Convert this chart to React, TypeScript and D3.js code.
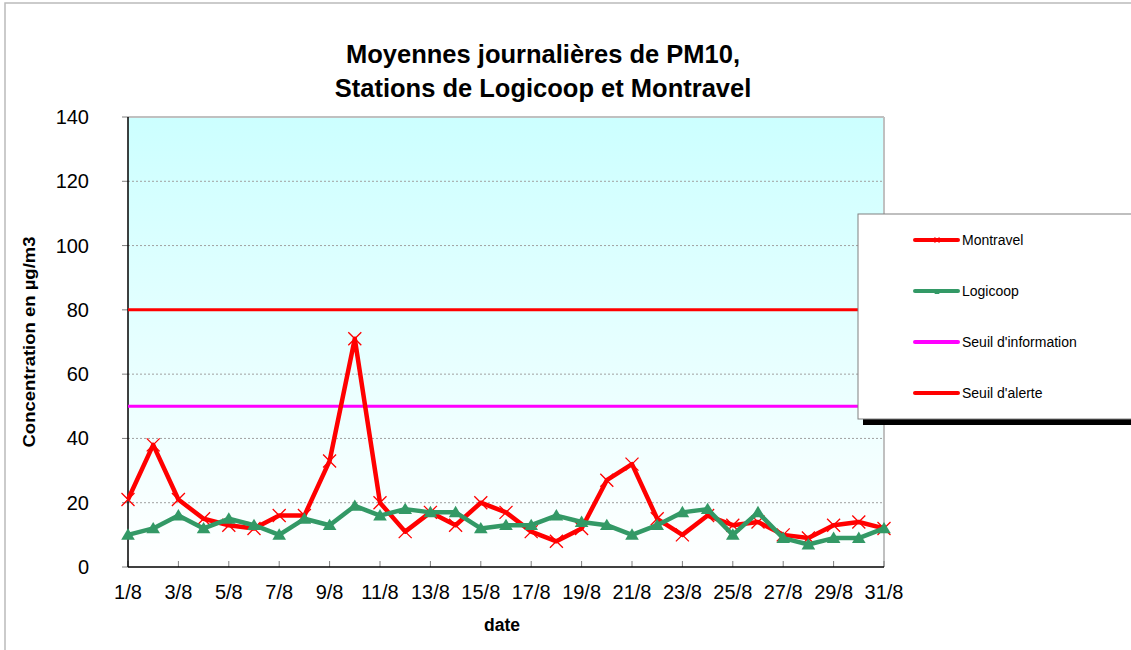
import React from "react";
import * as d3 from "d3";

const days = ["1/8","2/8","3/8","4/8","5/8","6/8","7/8","8/8","9/8","10/8","11/8","12/8","13/8","14/8","15/8","16/8","17/8","18/8","19/8","20/8","21/8","22/8","23/8","24/8","25/8","26/8","27/8","28/8","29/8","30/8","31/8"];
const tickLabels = ["1/8","3/8","5/8","7/8","9/8","11/8","13/8","15/8","17/8","19/8","21/8","23/8","25/8","27/8","29/8","31/8"];
const montravel = [21,38,21,15,13,12,16,16,33,71,20,11,17,13,20,17,11,8,12,27,32,15,10,16,13,14,10,9,13,14,12];
const logicoop = [10,12,16,12,15,13,10,15,13,19,16,18,17,17,12,13,13,16,14,13,10,13,17,18,10,17,9,7,9,9,12];
const seuilInformation = 50;
const seuilAlerte = 80;
const yTicks = [0,20,40,60,80,100,120,140];
const legendItems = ["Montravel","Logicoop","Seuil d'information","Seuil d'alerte"];

const W = 1131, H = 650;
const L = 128, R = 884, T = 117, B = 567;
const FONT = "Liberation Sans, Arial, sans-serif";

export default function App() {
  const x = d3.scalePoint<string>().domain(days).range([L, R]).padding(0);
  const y = d3.scaleLinear().domain([0, 140]).range([B, T]);
  const line = d3.line<number>().x((_, i) => x(days[i])!).y((v) => y(v));

  const tri = (cx: number, cy: number, s: number) =>
    `M${cx},${cy - s}L${cx + s * 1.05},${cy + s * 0.75}L${cx - s * 1.05},${cy + s * 0.75}Z`;
  const cross = (cx: number, cy: number, s: number) =>
    `M${cx - s},${cy - s}L${cx + s},${cy + s}M${cx - s},${cy + s}L${cx + s},${cy - s}`;

  const legendY = [240, 291, 342, 393];
  const legendColors = ["#FF0000", "#339966", "#FF00FF", "#FF0000"];

  return (
    <svg width={W} height={H} style={{ position: "absolute", left: 0, top: 0, background: "#fff" }} fontFamily={FONT}>
      <defs>
        <linearGradient id="bg" x1="0" y1="0" x2="0" y2="1">
          <stop offset="0" stopColor="#CCFFFF" />
          <stop offset="1" stopColor="#FFFFFF" />
        </linearGradient>
      </defs>
      <rect x={5} y={3} width={1140} height={660} fill="#fff" stroke="#BBBBBB" strokeWidth={1.5} />

      <text x={543} y={63} textAnchor="middle" fontSize={25.5} fontWeight="bold">Moyennes journalières de PM10,</text>
      <text x={543} y={97} textAnchor="middle" fontSize={25.5} fontWeight="bold">Stations de Logicoop et Montravel</text>

      <rect x={L} y={T} width={R - L} height={B - T} fill="url(#bg)" />
      {yTicks.slice(1, -1).map((t) => (
        <line key={t} x1={L} x2={R} y1={y(t)} y2={y(t)} stroke="#A0A0A0" strokeWidth={1} strokeDasharray="2,2" />
      ))}
      <line x1={L} x2={R} y1={T} y2={T} stroke="#C0C0C0" strokeWidth={2} />
      <line x1={R} x2={R} y1={T} y2={B} stroke="#C0C0C0" strokeWidth={2} />

      {yTicks.map((t) => (
        <g key={t}>
          <line x1={L - 6} x2={L} y1={y(t)} y2={y(t)} stroke="#808080" strokeWidth={1} />
          <text x={89} y={y(t)} dy="0.35em" textAnchor="end" fontSize={20}>{t}</text>
        </g>
      ))}
      {tickLabels.map((lab) => (
        <g key={lab}>
          <line x1={x(lab)!} x2={x(lab)!} y1={B - 6} y2={B} stroke="#808080" strokeWidth={1} />
          <text x={x(lab)!} y={599} textAnchor="middle" fontSize={20}>{lab}</text>
        </g>
      ))}
      <line x1={L} x2={L} y1={T} y2={B} stroke="#000" strokeWidth={1.5} />
      <line x1={L} x2={R} y1={B} y2={B} stroke="#000" strokeWidth={1.5} />

      <text x={502} y={631} textAnchor="middle" fontSize={17.5} fontWeight="bold">date</text>
      <text transform="translate(35,342) rotate(-90)" textAnchor="middle" fontSize={17} fontWeight="bold" textLength={211} lengthAdjust="spacingAndGlyphs">Concentration en µg/m3</text>

      <line x1={L} x2={R} y1={y(seuilAlerte)} y2={y(seuilAlerte)} stroke="#FF0000" strokeWidth={3} />
      <line x1={L} x2={R} y1={y(seuilInformation)} y2={y(seuilInformation)} stroke="#FF00FF" strokeWidth={3} />

      <path d={line(montravel)!} fill="none" stroke="#FF0000" strokeWidth={4.5} strokeLinejoin="round" />
      {montravel.map((v, i) => (
        <path key={i} d={cross(x(days[i])!, y(v), 6.5)} stroke="#FF0000" strokeWidth={1.3} fill="none" />
      ))}
      <path d={line(logicoop)!} fill="none" stroke="#339966" strokeWidth={4.5} strokeLinejoin="round" />
      {logicoop.map((v, i) => (
        <path key={i} d={tri(x(days[i])!, y(v), 6.5)} fill="#339966" />
      ))}

      <rect x={863} y={219} width={300} height={206} fill="#000" />
      <rect x={858} y={214} width={300} height={205} fill="#fff" stroke="#808080" strokeWidth={1} />
      {legendItems.map((name, i) => (
        <g key={name}>
          <line x1={915} x2={958} y1={legendY[i]} y2={legendY[i]} stroke={legendColors[i]} strokeWidth={4} strokeLinecap="round" />
          {i === 0 && <path d={cross(937, legendY[i], 2.5)} stroke="#FF0000" strokeWidth={1.2} />}
          {i === 1 && <path d={tri(937, legendY[i] + 1, 2.5)} fill="#339966" />}
          <text x={962} y={legendY[i]} dy="0.35em" fontSize={14}>{name}</text>
        </g>
      ))}
    </svg>
  );
}
